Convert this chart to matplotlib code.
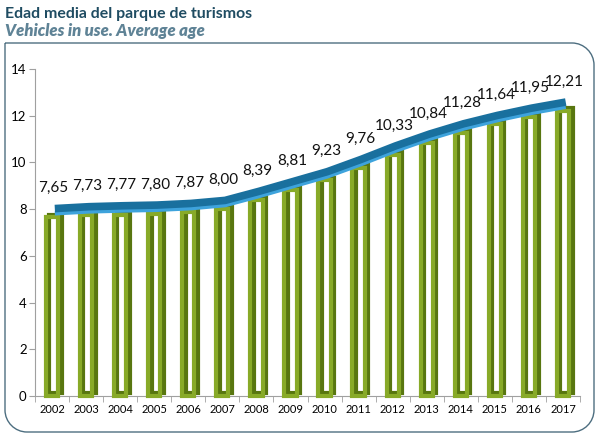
import numpy as np
import matplotlib
matplotlib.use('Agg')
import matplotlib.pyplot as plt
from matplotlib.path import Path
from matplotlib.patches import PathPatch
from matplotlib.transforms import ScaledTranslation

plt.rcParams['font.family'] = ['Lato', 'DejaVu Sans']

years = ['2002', '2003', '2004', '2005', '2006', '2007', '2008', '2009',
         '2010', '2011', '2012', '2013', '2014', '2015', '2016', '2017']
avg_age = [7.65, 7.73, 7.77, 7.80, 7.87, 8.00, 8.39, 8.81,
           9.23, 9.76, 10.33, 10.84, 11.28, 11.64, 11.95, 12.21]
labels = ['%.2f' % v for v in avg_age]
labels = [s.replace('.', ',') for s in labels]
yticks = [0, 2, 4, 6, 8, 10, 12, 14]

W, H = 600, 438
fig = plt.figure(figsize=(W / 100, H / 100), dpi=100)

# rounded frame (top-left corner square)
x0, x1, yt, yb, r = 5, 594, 43, 432, 22
k = 0.55
verts = [
    (x0, yt), (x1 - r, yt),
    (x1 - r + k * r, yt), (x1, yt + r - k * r), (x1, yt + r),
    (x1, yb - r),
    (x1, yb - r + k * r), (x1 - r + k * r, yb), (x1 - r, yb),
    (x0 + r, yb),
    (x0 + r - k * r, yb), (x0, yb - r + k * r), (x0, yb - r),
    (x0, yt),
]
codes = [Path.MOVETO, Path.LINETO,
         Path.CURVE4, Path.CURVE4, Path.CURVE4,
         Path.LINETO,
         Path.CURVE4, Path.CURVE4, Path.CURVE4,
         Path.LINETO,
         Path.CURVE4, Path.CURVE4, Path.CURVE4,
         Path.LINETO]
verts = [(x / W, 1 - y / H) for x, y in verts]
fig.patches.append(PathPatch(Path(verts, codes), transform=fig.transFigure,
                             fill=False, edgecolor='#4d6e80', lw=1.0))

fig.text(5 / W, 1 - 14 / H, 'Edad media del parque de turismos',
         fontsize=11.4, fontweight='bold', color='#1f4c62', va='center')
fig.text(5 / W, 1 - 31 / H, 'Vehicles in use. Average age',
         fontsize=12, fontweight='heavy', style='italic', color='#5f8396',
         va='center')

ax = fig.add_axes([35 / W, 1 - 396 / H, 545 / W, 327 / H])
x = np.arange(len(years))

# 3D hollow bars: back frame then front frame
back = ScaledTranslation(2.5 / 72, 2 / 72, fig.dpi_scale_trans)
ax.bar(x, avg_age, width=0.36, fill=False, edgecolor='#587610', lw=3.0,
       transform=ax.transData + back, clip_on=False, zorder=2)
ax.bar(x, avg_age, width=0.36, fill=False, edgecolor='#88aa28', lw=3.0,
       clip_on=False, zorder=3)

# blue ribbon line
light = ScaledTranslation(2 / 72, 2.8 / 72, fig.dpi_scale_trans)
dark = ScaledTranslation(2 / 72, 6.3 / 72, fig.dpi_scale_trans)
ax.plot(x, avg_age, color='#3ea3dc', lw=3, solid_capstyle='butt',
        transform=ax.transData + light, zorder=5)
ax.plot(x, avg_age, color='#19709e', lw=5.5, solid_capstyle='butt',
        transform=ax.transData + dark, zorder=6)

for xi, v, s in zip(x, avg_age, labels):
    ax.annotate(s, (xi, v), xytext=(1, 21), textcoords='offset points',
                ha='center', va='center', fontsize=11, color='#111111')

ax.set_xlim(-0.5, len(years) - 0.5)
ax.set_ylim(0, 14)
ax.set_yticks(yticks)
ax.set_xticks(x)
ax.set_xticklabels(years)
ax.set_xticks(np.arange(len(years) + 1) - 0.5, minor=True)
ax.tick_params(axis='x', which='major', length=0, labelsize=8, pad=6)
ax.tick_params(axis='x', which='minor', length=4, color='#a0a0a0')
ax.tick_params(axis='y', length=4, color='#a0a0a0', labelsize=9.5, pad=2)
for side in ['top', 'right']:
    ax.spines[side].set_visible(False)
for side in ['left', 'bottom']:
    ax.spines[side].set_color('#a0a0a0')
ax.patch.set_alpha(0)

fig.savefig('out.png', dpi=100)
